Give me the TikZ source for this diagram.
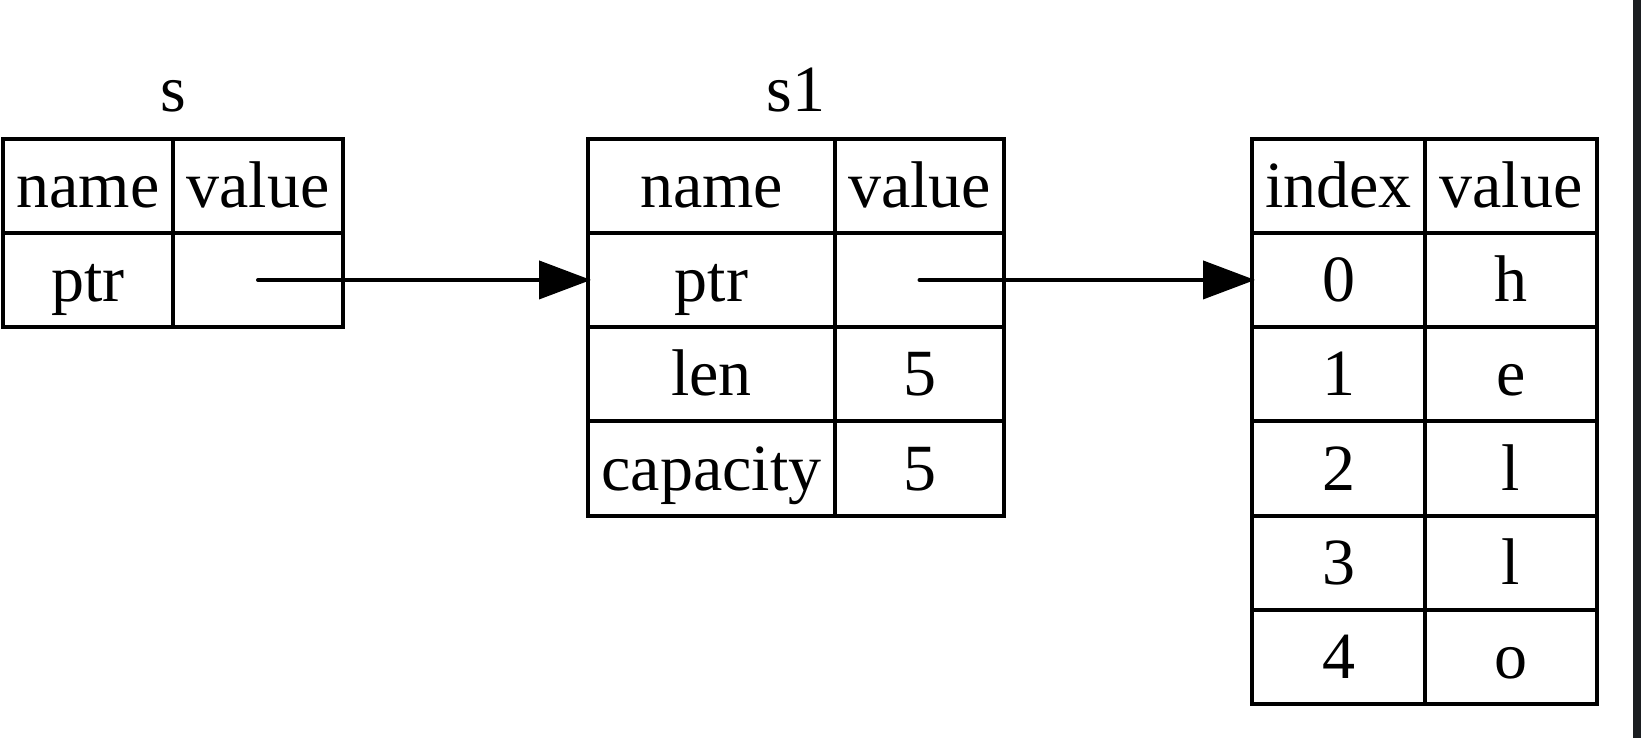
\documentclass[tikz,border=0pt]{standalone}
\usepackage{fontspec}
\setmainfont{Liberation Serif}
\usetikzlibrary{arrows.meta, positioning}
\definecolor{edgebar}{RGB}{27,30,33}

\tikzset{
  cell/.style={draw, rectangle, inner sep=0pt, outer sep=0pt, minimum height=47.15pt,
    text height=24.5pt, text depth=3pt, font=\fontsize{33}{37}\selectfont},
  title/.style={anchor=base, inner sep=0pt, font=\fontsize{33}{37}\selectfont},
  pointer/.style={-{Triangle[length=26pt,width=19pt]}, shorten >=-1.5pt}
}

\begin{document}
\begin{tikzpicture}[x=0.5pt, y=-0.5pt, line width=2pt, line cap=round]
        \useasboundingbox (0,0) rectangle (1641,738);
        \fill [edgebar] (1633,0) rectangle (1641,738);

        % s
        \node [title] (s) at (173,112) {s};
        \node [cell, minimum width=85pt] (sn0) at (88,185.65) {name};
        \node [cell, minimum width=85pt] (sv0) at (258,185.65) {value};
        \node [cell, minimum width=85pt] (sn1) at (88,279.95) {ptr};
        \node [cell, minimum width=85pt] (sv1) at (258,279.95) {};

        % s1
        \node [title] (s1) at (796,112) {s1};
        \node [cell, minimum width=123.5pt] (an0) at (711.5,185.65) {name};
        \node [cell, minimum width=84.5pt] (av0) at (919.5,185.65) {value};
        \node [cell, minimum width=123.5pt] (an1) at (711.5,279.95) {ptr};
        \node [cell, minimum width=84.5pt] (av1) at (919.5,279.95) {};
        \node [cell, minimum width=123.5pt] (an2) at (711.5,374.25) {len};
        \node [cell, minimum width=84.5pt] (av2) at (919.5,374.25) {5};
        \node [cell, minimum width=123.5pt] (an3) at (711.5,468.55) {capacity};
        \node [cell, minimum width=84.5pt] (av3) at (919.5,468.55) {5};

        % heap
        \node [cell, minimum width=86.5pt] (hi0) at (1338.5,185.65) {index};
        \node [cell, minimum width=86pt] (hv0) at (1511,185.65) {value};
        \node [cell, minimum width=86.5pt] (hi1) at (1338.5,279.95) {0};
        \node [cell, minimum width=86pt] (hv1) at (1511,279.95) {h};
        \node [cell, minimum width=86.5pt] (hi2) at (1338.5,374.25) {1};
        \node [cell, minimum width=86pt] (hv2) at (1511,374.25) {e};
        \node [cell, minimum width=86.5pt] (hi3) at (1338.5,468.55) {2};
        \node [cell, minimum width=86pt] (hv3) at (1511,468.55) {l};
        \node [cell, minimum width=86.5pt] (hi4) at (1338.5,562.85) {3};
        \node [cell, minimum width=86pt] (hv4) at (1511,562.85) {l};
        \node [cell, minimum width=86.5pt] (hi5) at (1338.5,657.15) {4};
        \node [cell, minimum width=86pt] (hv5) at (1511,657.15) {o};

        \draw [pointer] (sv1.center) -- (an1.west);
        \draw [pointer] (av1.center) -- (hi1.west);
    \end{tikzpicture}
\end{document}
